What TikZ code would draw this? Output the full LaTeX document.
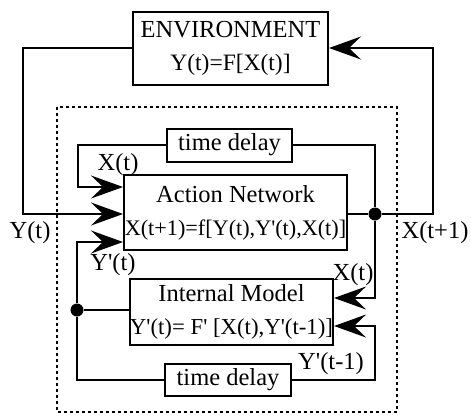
\documentclass[tikz,border=0pt]{standalone}
\usepackage{fontspec}
\setmainfont{Liberation Serif}
\usetikzlibrary{arrows.meta}
\newcommand\aq{\textquotesingle}
\begin{document}
\begin{tikzpicture}[x=1pt,y=-1pt,
  box/.style={draw,line width=2pt,inner sep=0pt,align=center,font=\fontsize{24.5}{33}\selectfont},
  wire/.style={line width=2pt},
  arr/.style={wire,-{Stealth[length=32pt,width=23pt,inset=12pt]}},
  lab/.style={inner sep=0pt,font=\fontsize{24.5}{28}\selectfont},
  dot/.style={circle,fill,inner sep=0pt,minimum size=13pt},
  frame/.style={line width=2.2pt,dash pattern=on 3pt off 3pt}]
\useasboundingbox (0,0) rectangle (471,416);
\draw[frame] (57,107) rectangle (397,412);
\node[box,minimum width=195pt,minimum height=73pt] (env) at (230.5,48)
  {ENVIRONMENT\\\fontsize{23.5}{33}\selectfont Y(t)=F[X(t)]};
\node[box,minimum width=125pt,minimum height=33pt] (td1) at (229.5,145) {time delay};
\node[box,minimum width=223pt,minimum height=75pt] (an) at (235.5,212.5)
  {Action Network\\\fontsize{22.2}{33}\selectfont X(t+1)=f[Y(t),Y\aq(t),X(t)]};
\node[box,minimum width=203pt,minimum height=66pt] (im) at (231.5,312)
  {Internal Model\\\fontsize{22.8}{33}\selectfont Y\aq(t)= F\aq\ [X(t),Y\aq(t-1)]};
\node[box,minimum width=126pt,minimum height=32pt] (td2) at (228,380) {time delay};
\node[dot] (dR) at (375,214) {};
\node[dot] (dL) at (77,310) {};
\node[lab] (lX1) at (118,165) {X(t)};
\node[lab] (lY) at (30,233) {Y(t)};
\node[lab] (lYp) at (113,265) {Y\aq(t)};
\node[lab] (lXn) at (435,233) {X(t+1)};
\node[lab] (lX2) at (353,275) {X(t)};
\node[lab] (lYpm) at (331,364) {Y\aq(t-1)};
\draw[arr] (env.west) -| (23,214) -- (an.west |- 0,214);
\draw[wire] (an.east |- dR) -- (dR);
\draw[arr] (dR) -- (433,214) |- (env.east);
\draw[arr] (td1.west) -| (78,187) -- (an.west |- 0,187);
\draw[wire] (td1.east) -| (dR);
\draw[arr] (dR) |- (im.east |- 0,298);
\draw[arr] (td2.east) -| (375,326) -- (im.east |- 0,326);
\draw[wire] (td2.west) -| (dL);
\draw[arr] (dL) |- (an.west |- 0,242);
\draw[wire] (im.west |- dL) -- (dL);
\end{tikzpicture}
\end{document}
